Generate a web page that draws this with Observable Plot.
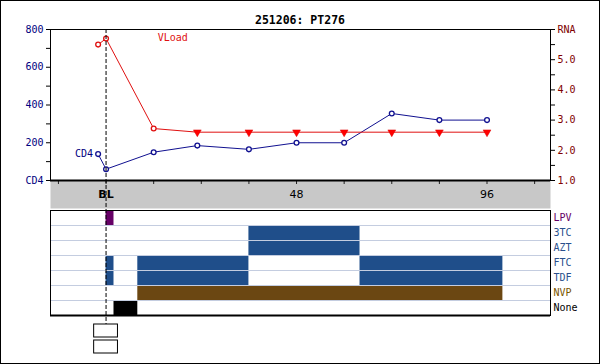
<!DOCTYPE html>
<html><head><meta charset="utf-8">
<script src="https://cdn.jsdelivr.net/npm/d3@7"></script>
<script src="https://cdn.jsdelivr.net/npm/@observablehq/plot@0.6"></script>
<style>
html,body{margin:0;padding:0;background:#fff;}
#wrap{position:relative;width:600px;height:364px;overflow:hidden;background:#fff;}
#wrap svg{position:absolute;left:0;top:0;}
#border{position:absolute;left:0;top:0;width:600px;height:364px;box-sizing:border-box;border:1px solid #000;pointer-events:none;}
#title{position:absolute;left:0;top:13px;width:600px;text-align:center;font:bold 11.5px "DejaVu Sans Mono",monospace;line-height:14px;}
</style></head><body>
<div id="wrap"><div id="title"></div><div id="border"></div></div>
<script>
// ---------- data ----------
const chartTitle = "251206: PT276";
const cd4Weeks  = [-2, 0, 12, 23, 36, 48, 60, 72, 84, 96];
const cd4Values = [140, 60, 150, 185, 165, 200, 200, 355, 320, 320];
const rnaWeeks  = [-2, 0, 12, 23, 36, 48, 60, 72, 84, 96];
const rnaValues = [5.5, 5.7, 2.72, 2.6, 2.6, 2.6, 2.6, 2.6, 2.6, 2.6];
const rnaBelowLimit = [false, false, false, true, true, true, true, true, true, true];
const xTickWeeks = [-12, 0, 12, 24, 36, 48, 60, 72, 84, 96, 108];
const xLabelWeeks = [0, 48, 96];
const xLabelTexts = ["BL", "48", "96"];
const cd4Ticks = [0, 200, 400, 600, 800];
const cd4MinorTicks = [100, 300, 500, 700];
const rnaTicks = [1, 2, 3, 4, 5, 6];
const rnaMinorTicks = [1.5, 2.5, 3.5, 4.5, 5.5];
const drugs = ["LPV", "3TC", "AZT", "FTC", "TDF", "NVP", "None"];
const drugColors = ["#660066", "#1f4e8a", "#1f4e8a", "#1f4e8a", "#1f4e8a", "#6b4712", "#000000"];
const labelColors = ["#660066", "#2a4f8c", "#2a4f8c", "#2a4f8c", "#2a4f8c", "#7a5500", "#000000"];
const periodDrug  = ["LPV", "3TC", "AZT", "FTC", "FTC", "FTC", "TDF", "TDF", "TDF", "NVP", "None"];
const periodStart = [0, 36, 36, 0, 8, 64, 0, 8, 64, 8, 2];
const periodEnd   = [2, 64, 64, 2, 36, 100, 2, 36, 100, 100, 8];
const annotWeeks = [13];
const annotTexts = ["VLoad"];
const boxIds = ["a", "b"];
const boxStart = [-3, -3];
const boxEnd = [3, 3];
const baselineWeek = [0];

// ---------- tables ----------
const cd4 = cd4Weeks.map((w, i) => ({week: w, value: cd4Values[i]}));
const rna = rnaWeeks.map((w, i) => ({week: w, value: rnaValues[i], below: rnaBelowLimit[i]}));
const xLabels = xLabelWeeks.map((w, i) => ({week: w, label: xLabelTexts[i]}));
const periods = periodDrug.map((d, i) => ({drug: d, start: periodStart[i], end: periodEnd[i], color: drugColors[drugs.indexOf(d)]}));
const drugRows = drugs.map((d, i) => ({drug: d, color: labelColors[i]}));
const boxes = boxIds.map((id, i) => ({id, start: boxStart[i], end: boxEnd[i]}));

// ---------- layout ----------
const W = 600, H = 364;
const xDomain = [-14, 112];
const font = "DejaVu Sans Mono";
const base = {
  width: W, height: H, marginLeft: 50, marginRight: 50,
  style: {background: "transparent", fontFamily: font, fontSize: "10px", overflow: "visible"}
};
const wrap = document.getElementById("wrap");
document.getElementById("title").textContent = chartTitle;

// gray x band
const band = Plot.plot({
  ...base, marginTop: 180, marginBottom: H - 208,
  x: {domain: xDomain, axis: null},
  marks: [
    Plot.frame({fill: "#c8c8c8", stroke: "none"}),
    Plot.text(xLabels.filter(d => d.label === "BL"), {x: "week", text: "label", frameAnchor: "middle", fontWeight: "bold", fontSize: 11, fontFamily: "DejaVu Sans", fill: "#000"}),
    Plot.text(xLabels.filter(d => d.label !== "BL"), {x: "week", text: "label", frameAnchor: "middle", fontSize: 11, fontFamily: "DejaVu Sans", fill: "#000"})
  ]
});

// top: CD4 (left axis)
const topCd4 = Plot.plot({
  ...base, marginTop: 29, marginBottom: H - 180,
  x: {domain: xDomain},
  y: {domain: [0, 800]},
  marks: [
    Plot.frame({stroke: "#000"}),
    Plot.axisY(cd4Ticks, {anchor: "left", tickSize: 4, tickPadding: 3, tickFormat: d => d === 0 ? "CD4" : String(d), fill: "#000080", label: null, fontSize: 10}),
    Plot.axisY(cd4MinorTicks, {anchor: "left", tickSize: 4, tickFormat: () => "", label: null}),
    Plot.axisX(xTickWeeks, {anchor: "bottom", tickSize: 4, tickFormat: () => "", label: null, stroke: "#222"}),
    Plot.ruleY([0], {stroke: "#000", strokeWidth: 2}),
    Plot.line(cd4, {x: "week", y: "value", stroke: "#101090", strokeWidth: 1}),
    Plot.dot(cd4, {x: "week", y: "value", r: 2.4, stroke: "#101090", fill: "white", strokeWidth: 1.3}),
    Plot.text(cd4.slice(0, 1), {x: "week", y: "value", text: () => "CD4", textAnchor: "end", dx: -5, fill: "#000080", fontSize: 10})
  ]
});

// top: RNA (right axis)
const topRna = Plot.plot({
  ...base, marginTop: 29, marginBottom: H - 180,
  x: {domain: xDomain, axis: null},
  y: {domain: [1, 6]},
  marks: [
    Plot.axisY(rnaTicks, {anchor: "right", tickSize: 4, tickPadding: 3, tickFormat: d => d === 6 ? "RNA" : d.toFixed(1), fill: "#800000", label: null, fontSize: 10}),
    Plot.axisY(rnaMinorTicks, {anchor: "right", tickSize: 4, tickFormat: () => "", label: null}),
    Plot.line(rna, {x: "week", y: "value", stroke: "#e01010", strokeWidth: 1}),
    Plot.dot(rna.filter(d => !d.below), {x: "week", y: "value", r: 2.4, stroke: "#e01010", fill: "white", strokeWidth: 1.3}),
    Plot.dot(rna.filter(d => d.below), {x: "week", y: "value", symbol: "triangle", rotate: 180, r: 2.9, fill: "#ff0000", stroke: "#e00000", strokeWidth: 0.5}),
    Plot.text(annotWeeks.map((w, i) => ({week: w, label: annotTexts[i]})), {x: "week", text: "label", frameAnchor: "top", lineAnchor: "middle", dy: 8, textAnchor: "start", fill: "#e01010", fontSize: 10})
  ]
});

// lower panel: regimens
const panel = Plot.plot({
  ...base, marginTop: 210, marginBottom: H - 315,
  x: {domain: xDomain, axis: null},
  y: {domain: drugs, axis: null, padding: 0},
  marks: [
    Plot.barX(periods, {x1: "start", x2: "end", y: "drug", fill: "color"}),
    Plot.ruleY(drugs.slice(1), {y: d => d, dy: -7.5, stroke: "#c4cde0", strokeWidth: 1}),
    Plot.frame({stroke: "#000"}),
    Plot.ruleY(drugs.slice(-1), {y: d => d, dy: 7.5, stroke: "#000", strokeWidth: 2}),
    Plot.text(drugRows, {y: "drug", text: "drug", frameAnchor: "right", dx: 3, textAnchor: "start", fill: "color", fontSize: 10})
  ]
});

// boxes below the panel
const boxPlot = Plot.plot({
  ...base, marginTop: 324, marginBottom: H - 353,
  x: {domain: xDomain, axis: null},
  y: {domain: boxIds, axis: null, paddingInner: 0.1875, paddingOuter: 0},
  marks: [
    Plot.barX(boxes, {x1: "start", x2: "end", y: "id", fill: "white", stroke: "#000", strokeWidth: 1})
  ]
});

// dashed baseline
const baseline = Plot.plot({
  ...base, marginTop: 29, marginBottom: H - 324,
  x: {domain: xDomain, axis: null},
  marks: [
    Plot.ruleX(baselineWeek, {stroke: "#000", strokeDasharray: "4,2", strokeWidth: 1})
  ]
});

const border = document.getElementById("border");
[band, topCd4, topRna, panel, boxPlot, baseline].forEach(p => wrap.insertBefore(p, border));
</script>
</body></html>
